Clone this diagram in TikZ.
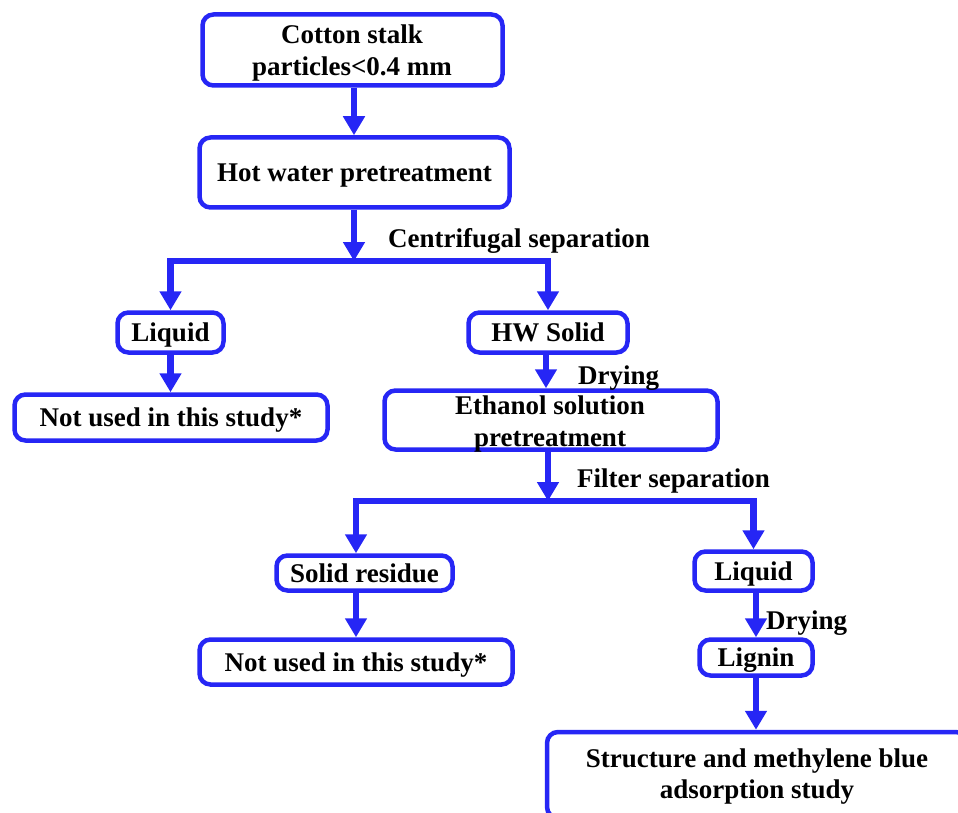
\documentclass[tikz,border=0pt]{standalone}
\usepackage{fontspec}
\setmainfont{Liberation Serif}
\usetikzlibrary{arrows.meta}
\definecolor{flowblue}{RGB}{38,38,245}
\tikzset{
  box/.style={draw=flowblue, line width=4.5pt, rounded corners=11pt, fill=white,
    inner sep=0pt, text height=18pt, text depth=0pt,
    font=\fontsize{27}{32}\selectfont\bfseries},
  plain/.style={inner sep=0pt, font=\fontsize{27}{32}\selectfont\bfseries},
  conn/.style={draw=flowblue, line width=6.5pt, line join=miter},
  tipA/.tip={Triangle[length=19pt, width=21pt]},
}
\begin{document}
\begin{tikzpicture}[x=1pt, y=-1pt]
\useasboundingbox (0,0) rectangle (958,813);
\clip (0,0) rectangle (958,813);
% boxes
\node[box, minimum width=300pt, minimum height=71pt] (a) at (352.5,50) {};
\node[plain, anchor=base] (a1) at (352,44) {Cotton stalk};
\node[plain, anchor=base] (a2) at (352,76) {particles<0.4 mm};
\node[box, minimum width=310pt, minimum height=70pt] (b) at (354.5,172.5) {Hot water pretreatment};
\node[box, minimum width=106pt, minimum height=40pt] (c) at (170.5,332.5) {Liquid};
\node[box, minimum width=313pt, minimum height=46pt] (d) at (171,417.5) {Not used in this study*};
\node[box, minimum width=159pt, minimum height=40pt] (e) at (548,332.5) {HW Solid};
\node[box, minimum width=333pt, minimum height=59pt] (f) at (551,420) {};
\node[plain, anchor=base] (f1) at (550,414) {Ethanol solution};
\node[plain, anchor=base] (f2) at (550,446) {pretreatment};
\node[box, minimum width=176pt, minimum height=35pt] (g) at (364.5,573) {Solid residue};
\node[box, minimum width=313pt, minimum height=45pt] (h) at (356,662) {Not used in this study*};
\node[box, minimum width=118pt, minimum height=39pt] (i) at (753.5,571) {Liquid};
\node[box, minimum width=113pt, minimum height=36pt] (j) at (756,657.5) {Lignin};
\node[box, minimum width=420pt, minimum height=86pt] (k) at (757,775) {};
\node[plain, anchor=base] (k1) at (757,767) {Structure and methylene blue};
\node[plain, anchor=base] (k2) at (757,798) {adsorption study};
% labels
\node[plain, anchor=base west] (l1) at (388,247) {Centrifugal separation};
\node[plain, anchor=base west] (l2) at (578,384) {Drying};
\node[plain, anchor=base west] (l3) at (577,487) {Filter separation};
\node[plain, anchor=base west] (l4) at (766,629) {Drying};
% junctions
\coordinate (j1) at (354,261);
\coordinate (j2) at (548,501);
% connectors
\draw[conn, -tipA] (a.south -| 354,0) -- (b.north -| 354,0);
\draw[conn, -tipA] (b.south -| 354,0) -- (j1);
\draw[conn, tipA-tipA] (c.north) |- (j1) -| (e.north);
\draw[conn, -tipA] (c.south) -- (d.north -| c.south);
\draw[conn, -tipA] (e.south -| 546,0) -- (f.north -| 546,0);
\draw[conn, -tipA] (f.south -| 548,0) -- (j2);
\draw[conn, tipA-tipA] (g.north -| h.north) |- (j2) -| (i.north);
\draw[conn, -tipA] (g.south -| h.north) -- (h.north);
\draw[conn, -tipA] (i.south -| j.north) -- (j.north);
\draw[conn, -tipA] (j.south) -- (k.north -| j.south);
\end{tikzpicture}
\end{document}
